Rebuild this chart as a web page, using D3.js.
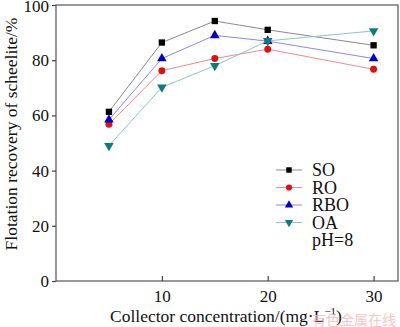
<html>
<head></head>
<body style="margin:0;background:white">
<svg id="svg" width="400" height="327"></svg>
<script src="https://cdn.jsdelivr.net/npm/d3@7"></script>
<script>

var conc = [5, 10, 15, 20, 30];
var so  = [61.3, 86.4, 94.2, 91.0, 85.4];
var ro  = [56.8, 76.2, 80.6, 84.0, 76.7];
var rbo = [58.4, 80.6, 89.0, 86.9, 80.6];
var oa  = [49.0, 70.2, 78.0, 87.0, 90.6];
var xTicks = [10, 20, 30];
var yTicks = [0, 20, 40, 60, 80, 100];

var series = [
  {name: "SO",  vals: so,  line: "#8a8a8a", fill: "#000000", sym: d3.symbolSquare, rot: 0},
  {name: "RO",  vals: ro,  line: "#f28a8a", fill: "#e01010", sym: d3.symbolCircle, rot: 0},
  {name: "RBO", vals: rbo, line: "#8a8ae6", fill: "#0000c8", sym: d3.symbolTriangle, rot: 0},
  {name: "OA",  vals: oa,  line: "#8ac8c8", fill: "#0e7a7a", sym: d3.symbolTriangle, rot: 180}
];

var L = 56, T = 5, R = 399, B = 281;
var x = d3.scaleLinear().domain([0, 32.4]).range([L, R]);
var y = d3.scaleLinear().domain([0, 100]).range([B, T]);

var svg = d3.select("#svg");
var font = "'Liberation Serif', 'Times New Roman', serif";

// frame
svg.append("rect").attr("x", L).attr("y", T).attr("width", R - L - 1).attr("height", B - T)
  .style("fill", "none").style("stroke", "#555").style("stroke-width", 1.2);

var ya = svg.append("g").attr("transform", "translate(" + L + ",0)")
  .call(d3.axisLeft(y).tickValues(yTicks).tickSize(4).tickPadding(3));
var xa = svg.append("g").attr("transform", "translate(0," + B + ")")
  .call(d3.axisBottom(x).tickValues(xTicks).tickSize(-5).tickPadding(9));
[ya, xa].forEach(a => {
  a.select(".domain").remove();
  a.selectAll("line").style("stroke", "#444").style("stroke-width", 1.2);
  a.selectAll("text").style("font-family", font).style("font-size", "17px").style("fill", "#111");
});
ya.selectAll("text").filter(d => d === 100).attr("dy", "0.4em");

var line = d3.line().x((d, i) => x(conc[i])).y(d => y(d));
series.forEach(s => {
  svg.append("path").datum(s.vals).attr("d", line)
    .style("fill", "none").style("stroke", s.line).style("stroke-width", 1);
  svg.selectAll(null).data(s.vals).join("path")
    .attr("transform", (d, i) => "translate(" + x(conc[i]) + "," + y(d) + ") rotate(" + s.rot + ")")
    .attr("d", d3.symbol().type(s.sym).size(s.sym === d3.symbolCircle ? 38 : 40))
    .style("fill", s.fill);
});

// legend
var lg = svg.append("g");
series.forEach((s, i) => {
  var yy = 170 + i * 17.5;
  lg.append("line").attr("x1", 276).attr("x2", 302).attr("y1", yy).attr("y2", yy)
    .style("stroke", s.line).style("stroke-width", 1);
  lg.append("path").attr("transform", "translate(289," + yy + ") rotate(" + s.rot + ")")
    .attr("d", d3.symbol().type(s.sym).size(30)).style("fill", s.fill);
  lg.append("text").attr("x", 312).attr("y", yy + 6).text(s.name)
    .style("font-family", font).style("font-size", "18px").style("fill", "#111");
});
lg.append("text").attr("x", 312).attr("y", 170 + 4 * 17.5 + 6).text("pH=8")
  .style("font-family", font).style("font-size", "18px").style("fill", "#111");

// axis titles
svg.append("text").attr("transform", "translate(17,134) rotate(-90)")
  .attr("text-anchor", "middle").text("Flotation recovery of scheelite/%")
  .style("font-family", font).style("font-size", "17.5px").style("fill", "#111");
var xt = svg.append("text").attr("x", 226).attr("y", 322).attr("text-anchor", "middle")
  .style("font-family", font).style("font-size", "17.5px").style("fill", "#111");
xt.append("tspan").text("Collector concentration/(mg·L");
xt.append("tspan").attr("dy", -7).style("font-size", "11px").text("−1");
xt.append("tspan").attr("dy", 7).text(")");

// watermark
svg.append("text").attr("x", 312).attr("y", 325).text("有色金属在线")
  .style("font-family", "'Noto Sans CJK SC'").style("font-size", "14px")
  .style("fill", "#f2b8b8").style("opacity", 0.8);

</script>
</body>
</html>
